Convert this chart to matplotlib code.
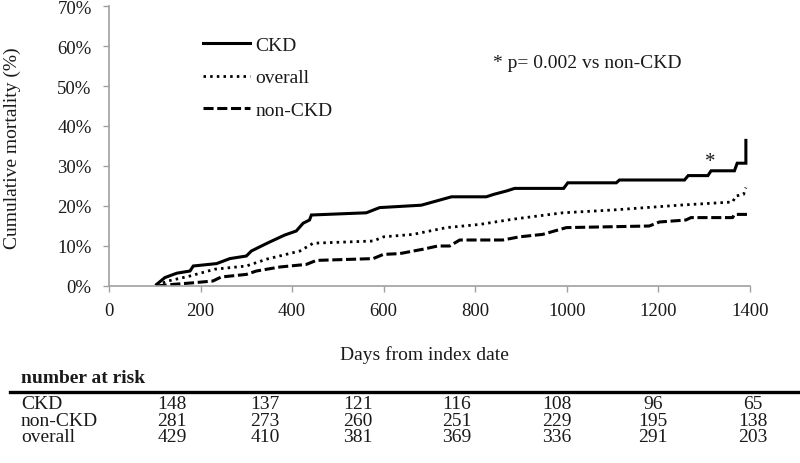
import matplotlib
matplotlib.use("Agg")
import matplotlib.pyplot as plt
from matplotlib.lines import Line2D

plt.rcParams['font.family'] = ['Liberation Serif', 'DejaVu Serif']

# ---- data ----
ckd_days = [104, 122, 148, 177, 184, 235, 264, 300, 311, 333, 351, 384, 409, 424, 438, 442,
            562, 591, 682, 748, 824, 840, 868, 886, 993, 1002, 1108, 1115, 1257, 1265,
            1308, 1315, 1366, 1372, 1391, 1391]
ckd_pct = [0.4, 2.1, 3.2, 3.75, 5.0, 5.6, 6.85, 7.5, 8.75, 10.0, 11.0, 12.75, 13.75, 15.7, 16.5, 17.75,
           18.3, 19.6, 20.2, 22.3, 22.3, 22.9, 23.75, 24.4, 24.4, 25.8, 25.8, 26.5, 26.5, 27.6,
           27.6, 28.8, 28.8, 30.7, 30.7, 36.4]

overall_days = [104, 129, 177, 231, 300, 344, 417, 446, 577, 600, 664, 737, 810, 882, 991,
                1100, 1173, 1245, 1362, 1369, 1386, 1391]
overall_pct = [0.2, 1.25, 2.5, 4.2, 5.0, 6.7, 8.75, 10.7, 11.25, 12.3, 12.9, 14.6, 15.4, 16.7, 18.3,
               19.0, 19.6, 20.2, 21.0, 22.5, 22.9, 24.6]

nonckd_days = [104, 140, 184, 227, 245, 300, 322, 373, 431, 453, 577, 599, 635, 686, 718, 744,
               766, 860, 897, 947, 999, 1180, 1202, 1260, 1271, 1362, 1366, 1395]
nonckd_pct = [0.0, 0.4, 0.8, 1.25, 2.25, 2.9, 3.75, 4.75, 5.4, 6.4, 6.85, 7.9, 8.1, 9.2, 10.0, 10.0,
              11.5, 11.5, 12.3, 12.9, 14.6, 15.0, 16.0, 16.5, 17.1, 17.1, 17.9, 17.9]

x_ticks = [0, 200, 400, 600, 800, 1000, 1200, 1400]
y_ticks = [0, 10, 20, 30, 40, 50, 60, 70]

risk_groups = ['CKD', 'non-CKD', 'overall']
risk_ckd = [148, 137, 121, 116, 108, 96, 65]
risk_nonckd = [281, 273, 260, 251, 229, 195, 138]
risk_overall = [429, 410, 381, 369, 336, 291, 203]

star_day, star_pct = 1313, 31.2

# ---- figure ----
W, H = 800, 464
fig = plt.figure(figsize=(8, 4.64), dpi=100)
def fx(px): return px / W
def fy(py): return 1 - py / H

ax = fig.add_axes([fx(109), fy(287), fx(750) - fx(109), fy(7) - fy(287)])
ax.set_xlim(0, 1400)
ax.set_ylim(0, 70)

txt = '#1a1a1a'
FS = 14
ax.plot(ckd_days, ckd_pct, color='black', lw=2.2, solid_joinstyle='miter', label='CKD')
ax.plot(overall_days, overall_pct, color='black', lw=2.0, linestyle=(0, (0.9, 1.5)), label='overall')
ax.plot(nonckd_days, nonckd_pct, color='black', lw=2.2, linestyle=(0, (3.3, 1.2)), label='non-CKD')

ax.text(star_day, star_pct, '*', fontsize=15, ha='center', va='center', color=txt)

for s in ['top', 'right']:
    ax.spines[s].set_visible(False)
for s in ['left', 'bottom']:
    ax.spines[s].set_color('#a0a0a0')
    ax.spines[s].set_linewidth(1.2)
ax.set_xticks(x_ticks)
ax.set_yticks(y_ticks)
ax.set_yticklabels([f'{v}%' for v in y_ticks])
ax.tick_params(axis='both', direction='out', length=4.5, width=1.0, color='#a0a0a0',
               labelsize=13.5, labelcolor=txt)
ax.tick_params(axis='y', pad=8)
ax.tick_params(axis='x', pad=7)

fig.text(fx(12), fy(148), 'Cumulative mortality (%)', rotation=90, ha='center', va='center',
         fontsize=FS, color=txt)
fig.text(fx(424), fy(355), 'Days from index date', ha='center', va='center', fontsize=FS, color=txt)

leg = ax.legend(loc='upper left', bbox_to_anchor=(fx(203), fy(37)), bbox_transform=fig.transFigure,
                frameon=False, fontsize=FS, handlelength=2.43, handletextpad=0.26,
                labelspacing=0.78, borderpad=0, borderaxespad=0)
for t in leg.get_texts():
    t.set_color(txt)

fig.text(fx(493), fy(63), '* p= 0.002 vs non-CKD', ha='left', va='center', fontsize=FS, color=txt)

# ---- number at risk table ----
fig.text(fx(21), fy(379), 'number at risk', ha='left', va='center', fontsize=FS,
         fontweight='bold', color=txt)
fig.add_artist(Line2D([fx(10), fx(800)], [fy(392.5), fy(392.5)], lw=2.4, color='black'))
col_x = [172, 265, 358, 457, 557, 653, 753]
row_y = [405, 421.5, 437.5]
for name, vals, yy in zip(risk_groups, [risk_ckd, risk_nonckd, risk_overall], row_y):
    fig.text(fx(21), fy(yy), name, ha='left', va='center', fontsize=FS, color=txt)
    for cx, v in zip(col_x, vals):
        fig.text(fx(cx), fy(yy), str(v), ha='center', va='center', fontsize=FS, color=txt)

fig.savefig('out.png', dpi=100)
